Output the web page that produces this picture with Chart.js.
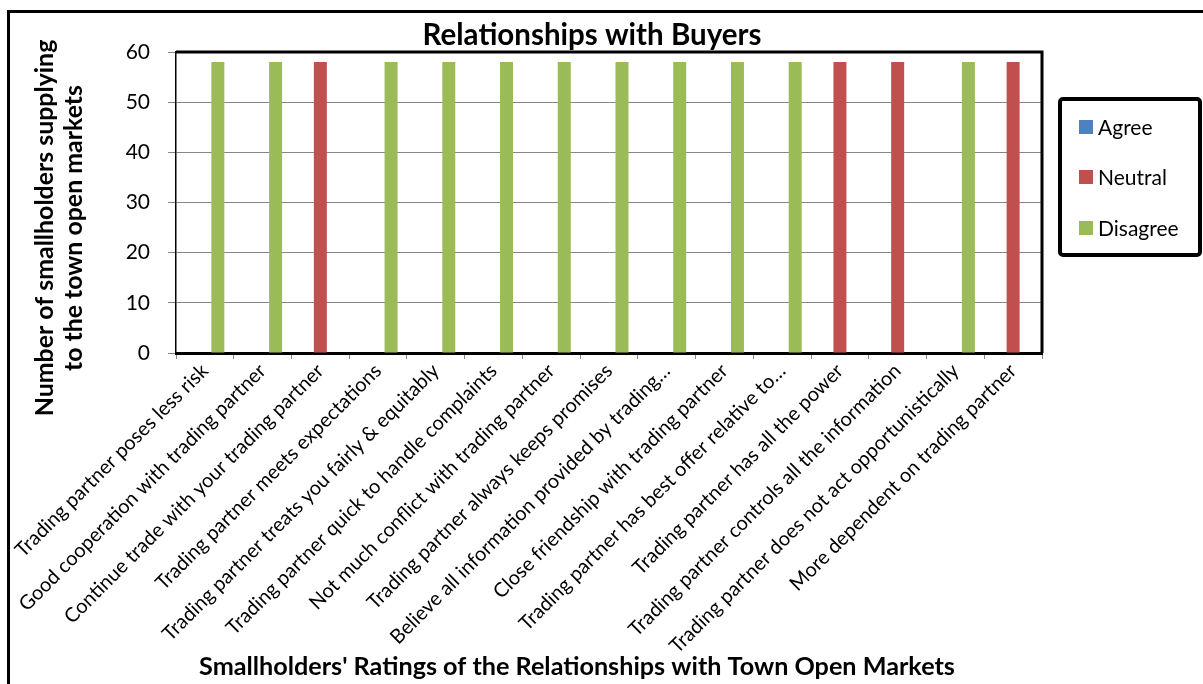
<!DOCTYPE html>
<html>
<head>
<meta charset="utf-8">
<title>Relationships with Buyers</title>
<script src="https://cdn.jsdelivr.net/npm/chart.js@4/dist/chart.umd.min.js"></script>
<style>
  html, body { margin: 0; padding: 0; background: #fff; }
  canvas { display: block; }
</style>
</head>
<body>
<canvas id="buyersChart" width="1203" height="684"></canvas>
<script>
const categories = [
  "Trading partner poses less risk",
  "Good cooperation with trading partner",
  "Continue trade with your trading partner",
  "Trading partner meets expectations",
  "Trading partner treats you fairly & equitably",
  "Trading partner quick to handle complaints",
  "Not much conflict with trading partner",
  "Trading partner always keeps promises",
  "Believe all information provided by trading…",
  "Close friendship with trading partner",
  "Trading partner has best offer relative to…",
  "Trading partner has all the power",
  "Trading partner controls all the information",
  "Trading partner does not act opportunistically",
  "More dependent on trading partner"
];
const agree    = [0, 0, 0, 0, 0, 0, 0, 0, 0, 0, 0, 0, 0, 0, 0];
const neutral  = [0, 0, 58, 0, 0, 0, 0, 0, 0, 0, 0, 58, 58, 0, 58];
const disagree = [58, 58, 0, 58, 58, 58, 58, 58, 58, 58, 58, 0, 0, 58, 0];
const yTicks = [0, 10, 20, 30, 40, 50, 60];

const chartTitle = "Relationships with Buyers";
const yTitle = ["Number of smallholders supplying", "to the town open markets"];
const xTitle = "Smallholders' Ratings of the Relationships with Town Open Markets";

const FONT = 'Lato, "Open Sans", sans-serif';

// scale a font so the text fills a given width
function fitFont(ctx, text, weight, width) {
  ctx.font = `${weight} 100px ${FONT}`;
  const size = 100 * width / ctx.measureText(text).width;
  return `${weight} ${size.toFixed(1)}px ${FONT}`;
}

const frame = {
  id: "frame",
  afterDraw(chart) {
    const ctx = chart.ctx;
    const a = chart.chartArea;
    ctx.save();

    // outer border (runs off the right and bottom edges)
    ctx.fillStyle = "#000";
    ctx.fillRect(7, 10, 3, chart.height);
    ctx.fillRect(7, 10, chart.width, 3);

    // plot area border
    ctx.strokeStyle = "#000";
    ctx.lineWidth = 3;
    ctx.beginPath();
    ctx.moveTo(a.left, a.top);
    ctx.lineTo(a.right, a.top);
    ctx.lineTo(a.right, a.bottom);
    ctx.stroke();

    // titles
    ctx.fillStyle = "#000";
    ctx.textAlign = "center";
    ctx.textBaseline = "middle";
    ctx.font = fitFont(ctx, chartTitle, "bold", 339);
    ctx.fillText(chartTitle, 592, 35);

    ctx.font = fitFont(ctx, xTitle, "bold", 755);
    ctx.fillText(xTitle, 577, 667);

    ctx.save();
    ctx.translate(45, 228);
    ctx.rotate(-Math.PI / 2);
    ctx.font = fitFont(ctx, yTitle[0], "bold", 376);
    ctx.fillText(yTitle[0], 0, 0);
    ctx.fillText(yTitle[1], 0, 29);
    ctx.restore();

    // legend box
    ctx.lineWidth = 4;
    ctx.beginPath();
    ctx.roundRect(1060, 99, 140, 156, 3);
    ctx.stroke();

    ctx.textAlign = "left";
    ctx.font = `21px ${FONT}`;
    const rows = [127, 177, 228];
    chart.data.datasets.forEach((ds, i) => {
      ctx.fillStyle = ds.backgroundColor;
      ctx.fillRect(1079, rows[i] - 7, 14, 14);
      ctx.fillStyle = "#000";
      ctx.fillText(ds.label, 1098, rows[i] + 1);
    });

    ctx.restore();
  }
};

new Chart(document.getElementById("buyersChart"), {
  type: "bar",
  data: {
    labels: categories,
    datasets: [
      { label: "Agree", data: agree, backgroundColor: "#4F81BD" },
      { label: "Neutral", data: neutral, backgroundColor: "#C0504D" },
      { label: "Disagree", data: disagree, backgroundColor: "#9BBB59" }
    ]
  },
  options: {
    responsive: false,
    animation: false,
    categoryPercentage: 0.675,
    barPercentage: 1,
    layout: { padding: { left: 125, right: 161, top: 52, bottom: 0 } },
    plugins: {
      legend: { display: false },
      title: { display: false },
      tooltip: { enabled: false }
    },
    scales: {
      x: {
        grid: {
          drawOnChartArea: false,
          color: "#868686",
          tickLength: 6,
          offset: true
        },
        border: { color: "#000", width: 3 },
        ticks: {
          autoSkip: false,
          minRotation: 45,
          maxRotation: 45,
          padding: 0,
          color: "#000",
          font: { family: FONT, size: 20 }
        },
        afterFit(scale) {
          scale.height = 331;
          scale.paddingLeft = 0;
          scale.paddingRight = 0;
        }
      },
      y: {
        min: yTicks[0],
        max: yTicks[yTicks.length - 1],
        grid: { color: "#868686", tickLength: 8 },
        border: { color: "#000", width: 1.5 },
        ticks: {
          stepSize: yTicks[1] - yTicks[0],
          padding: 18,
          color: "#000",
          font: { family: FONT, size: 21 }
        },
        afterFit(scale) {
          scale.width = 51;
        }
      }
    }
  },
  plugins: [frame]
});
</script>
</body>
</html>
